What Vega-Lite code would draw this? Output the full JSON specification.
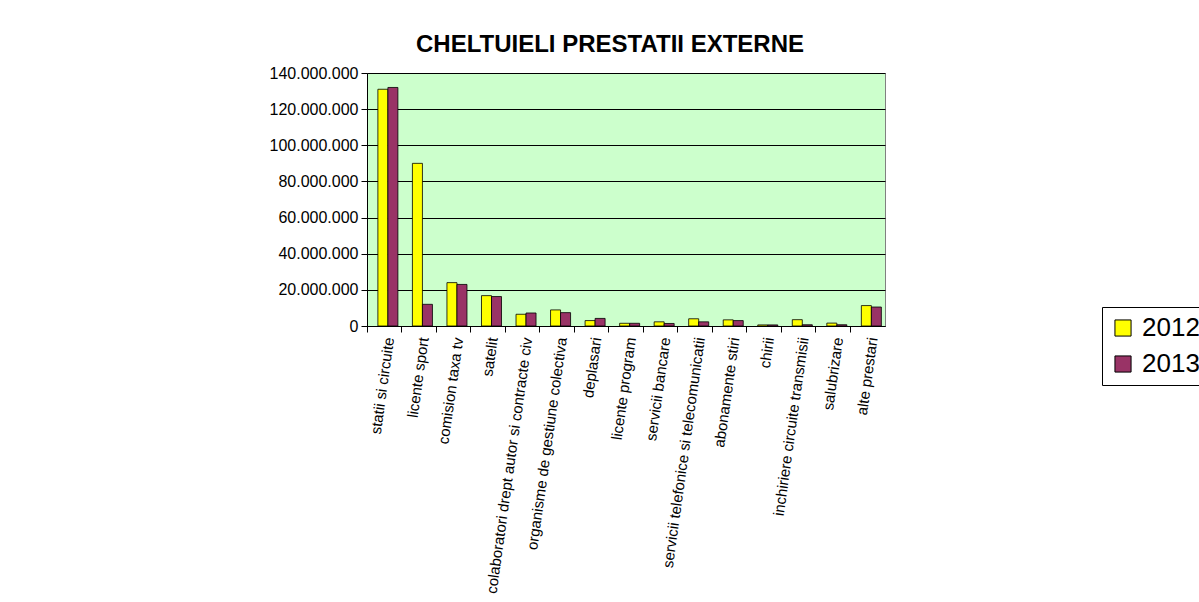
{
  "$schema": "https://vega.github.io/schema/vega-lite/v6.json",
  "autosize": "none",
  "padding": {"left": 367, "top": 73, "right": 314, "bottom": 276},
  "width": 518,
  "height": 253,
  "background": "white",
  "config": {
    "font": "Liberation Sans",
    "locale": {"number": {"decimal": ",", "thousands": ".", "grouping": [3], "currency": ["", ""]}},
    "view": {"fill": "#CCFFCC", "stroke": "#808080", "strokeWidth": 1}
  },
  "title": {
    "text": "CHELTUIELI PRESTATII EXTERNE",
    "fontSize": 24,
    "fontWeight": "bold",
    "font": "Liberation Sans",
    "color": "black",
    "anchor": "middle",
    "dx": -16,
    "offset": 8
  },
  "data": {
    "values": [
      {"cat": "statii si circuite", "an": "2012", "v": 131000000},
      {"cat": "statii si circuite", "an": "2013", "v": 132000000},
      {"cat": "licente sport", "an": "2012", "v": 90000000},
      {"cat": "licente sport", "an": "2013", "v": 12000000},
      {"cat": "comision taxa tv", "an": "2012", "v": 24000000},
      {"cat": "comision taxa tv", "an": "2013", "v": 23000000},
      {"cat": "satelit", "an": "2012", "v": 16800000},
      {"cat": "satelit", "an": "2013", "v": 16300000},
      {"cat": "colaboratori drept autor si contracte civ", "an": "2012", "v": 6500000},
      {"cat": "colaboratori drept autor si contracte civ", "an": "2013", "v": 7200000},
      {"cat": "organisme de gestiune colectiva", "an": "2012", "v": 8900000},
      {"cat": "organisme de gestiune colectiva", "an": "2013", "v": 7400000},
      {"cat": "deplasari", "an": "2012", "v": 3000000},
      {"cat": "deplasari", "an": "2013", "v": 4200000},
      {"cat": "licente program", "an": "2012", "v": 1500000},
      {"cat": "licente program", "an": "2013", "v": 1500000},
      {"cat": "servicii bancare", "an": "2012", "v": 2300000},
      {"cat": "servicii bancare", "an": "2013", "v": 1400000},
      {"cat": "servicii telefonice si telecomunicatii", "an": "2012", "v": 4000000},
      {"cat": "servicii telefonice si telecomunicatii", "an": "2013", "v": 2300000},
      {"cat": "abonamente stiri", "an": "2012", "v": 3400000},
      {"cat": "abonamente stiri", "an": "2013", "v": 3000000},
      {"cat": "chirii", "an": "2012", "v": 600000},
      {"cat": "chirii", "an": "2013", "v": 600000},
      {"cat": "inchiriere circuite transmisii", "an": "2012", "v": 3500000},
      {"cat": "inchiriere circuite transmisii", "an": "2013", "v": 700000},
      {"cat": "salubrizare", "an": "2012", "v": 1600000},
      {"cat": "salubrizare", "an": "2013", "v": 700000},
      {"cat": "alte prestari", "an": "2012", "v": 11300000},
      {"cat": "alte prestari", "an": "2013", "v": 10500000}
    ]
  },
  "mark": {"type": "bar", "stroke": "black", "strokeWidth": 0.8},
  "encoding": {
    "x": {
      "field": "cat",
      "type": "nominal",
      "sort": null,
      "scale": {"paddingInner": 0, "paddingOuter": 0},
      "axis": {
        "title": null,
        "bandPosition": 0,
        "labelOffset": 5,
        "labelAngle": -82,
        "labelAlign": "right",
        "labelBaseline": "middle",
        "labelFontSize": 15,
        "labelColor": "black",
        "labelPadding": 5,
        "labelLimit": 400,
        "domainColor": "black",
        "domainWidth": 1,
        "tickColor": "black",
        "tickSize": 6,
        "grid": false
      }
    },
    "xOffset": {"field": "an", "type": "nominal", "scale": {"paddingInner": 0, "paddingOuter": 0.725, "align": 0.75}},
    "y": {
      "field": "v",
      "type": "quantitative",
      "scale": {"domain": [0, 140000000], "nice": false},
      "axis": {
        "title": null,
        "values": [0, 20000000, 40000000, 60000000, 80000000, 100000000, 120000000, 140000000],
        "format": ",d",
        "labelFontSize": 16,
        "labelColor": "black",
        "labelPadding": 3,
        "tickSize": 6,
        "tickColor": "black",
        "domainColor": "black",
        "gridColor": "black",
        "gridWidth": 1,
        "gridOpacity": 1
      }
    },
    "color": {
      "field": "an",
      "type": "nominal",
      "scale": {"domain": ["2012", "2013"], "range": ["#FFFF00", "#993366"]},
      "legend": {
        "title": null,
        "orient": "none",
        "legendX": 735,
        "legendY": 234,
        "strokeColor": "black",
        "padding": 8,
        "symbolType": "square",
        "symbolSize": 260,
        "symbolStrokeColor": "black",
        "symbolStrokeWidth": 1,
        "symbolOpacity": 1,
        "labelFontSize": 26,
        "labelColor": "black",
        "rowPadding": 10,
        "labelOffset": 6
      }
    }
  }
}
